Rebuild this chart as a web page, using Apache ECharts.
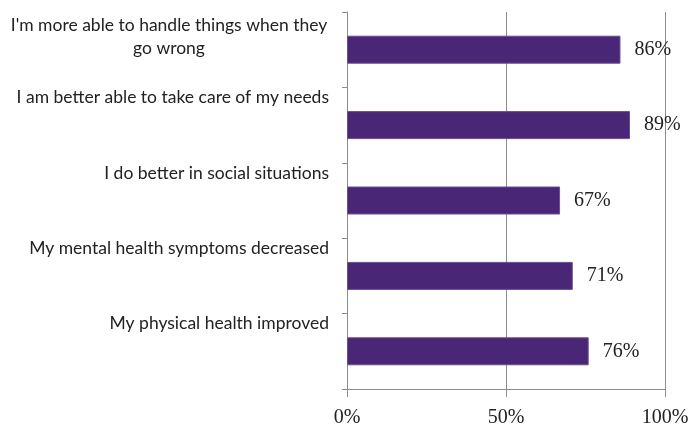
<!DOCTYPE html>
<html>
<head>
<meta charset="utf-8">
<script src="https://cdn.jsdelivr.net/npm/echarts@6/dist/echarts.min.js"></script>
<style>html,body{margin:0;padding:0;background:#fff}#c{width:688px;height:427px}</style>
</head>
<body>
<div id="c"></div>
<script>
const categories = [
  "I'm more able to handle things when they\ngo wrong",
  "I am better able to take care of my needs",
  "I do better in social situations",
  "My mental health symptoms decreased",
  "My physical health improved"
];
const values = [86, 89, 67, 71, 76];
const xTicks = [0, 50, 100];

const chart = echarts.init(document.getElementById('c'));
const lineH = 23;
const axisData = categories.map(function (c) {
  const n = c.split('\n').length;
  const style = { verticalAlign: 'bottom', padding: [0, 0, 16, 0] };
  if (n > 1) { style.align = 'center'; style.padding = [0, 320, -10, 0]; }
  return { value: c, textStyle: style };
});
chart.setOption({
  animation: false,
  grid: { left: 347, top: 12, width: 318, height: 377, containLabel: false, outerBoundsMode: 'none' },
  xAxis: {
    type: 'value', min: 0, max: 100, interval: 50,
    axisLine: { show: true, lineStyle: { color: '#8c8c8c', width: 1 } },
    axisTick: { show: true, length: 8, lineStyle: { color: '#8c8c8c' } },
    splitLine: { show: true, lineStyle: { color: '#8c8c8c', width: 1 } },
    axisLabel: {
      formatter: function (v) { return xTicks.indexOf(v) >= 0 ? v + '%' : ''; },
      fontFamily: 'Liberation Serif', fontSize: 20, color: '#222', margin: 19
    }
  },
  yAxis: {
    type: 'category', inverse: true, data: axisData,
    axisLine: { show: true, lineStyle: { color: '#8c8c8c', width: 1 } },
    axisTick: { show: true, length: 5, lineStyle: { color: '#8c8c8c' } },
    axisLabel: {
      interval: 0, fontFamily: 'Lato', fontSize: 17.5, color: '#222',
      lineHeight: lineH, margin: 18
    }
  },
  series: [{
    type: 'bar', data: values, barWidth: 28,
    itemStyle: { color: '#4a2677', borderColor: '#6b4e98', borderWidth: 1 },
    label: {
      show: true, position: 'right', distance: 14,
      formatter: '{c}%', fontFamily: 'Liberation Serif', fontSize: 20, color: '#222'
    }
  }]
});
</script>
</body>
</html>
